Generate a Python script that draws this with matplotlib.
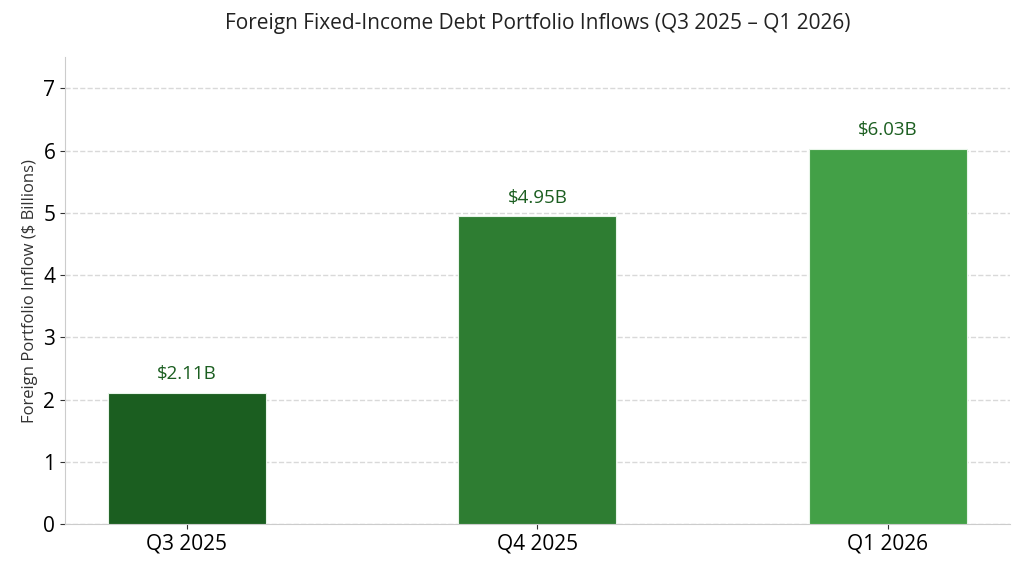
import matplotlib.pyplot as plt

plt.rcParams['font.family'] = ['Open Sans', 'DejaVu Sans']

quarters = ["Q3 2025", "Q4 2025", "Q1 2026"]
inflows = [2.11, 4.95, 6.03]
colors = ["#1b5e20", "#2e7d32", "#43a047"]

fig = plt.figure(figsize=(10.24, 5.7), dpi=100)
ax = fig.add_axes([0.0635, 0.0807, 0.9225, 0.819])

bars = ax.bar(quarters, inflows, width=0.45, color=colors, edgecolor="#e8f5e9", linewidth=0.8, zorder=3)

for b, v in zip(bars, inflows):
    ax.text(b.get_x() + b.get_width() / 2, v + 0.15, "$%.2fB" % v,
            ha="center", va="bottom", fontsize=13.5, color="#1b5e20")

ax.set_ylim(0, 7.5)
ax.set_yticks(range(0, 8))
ax.grid(axis="y", linestyle="--", color="#d9d9d9", linewidth=1, zorder=0)
ax.set_axisbelow(True)
ax.spines["top"].set_visible(False)
ax.spines["right"].set_visible(False)
ax.spines["left"].set_color("#cccccc")
ax.spines["bottom"].set_color("#cccccc")
ax.tick_params(axis="both", labelsize=15, color="#333333")
ax.set_ylabel("Foreign Portfolio Inflow ($ Billions)", fontsize=12, color="#333333", labelpad=4)
ax.set_title("Foreign Fixed-Income Debt Portfolio Inflows (Q3 2025 – Q1 2026)",
             fontsize=15, color="#222222", pad=20)

fig.savefig("out.png", dpi=100)
